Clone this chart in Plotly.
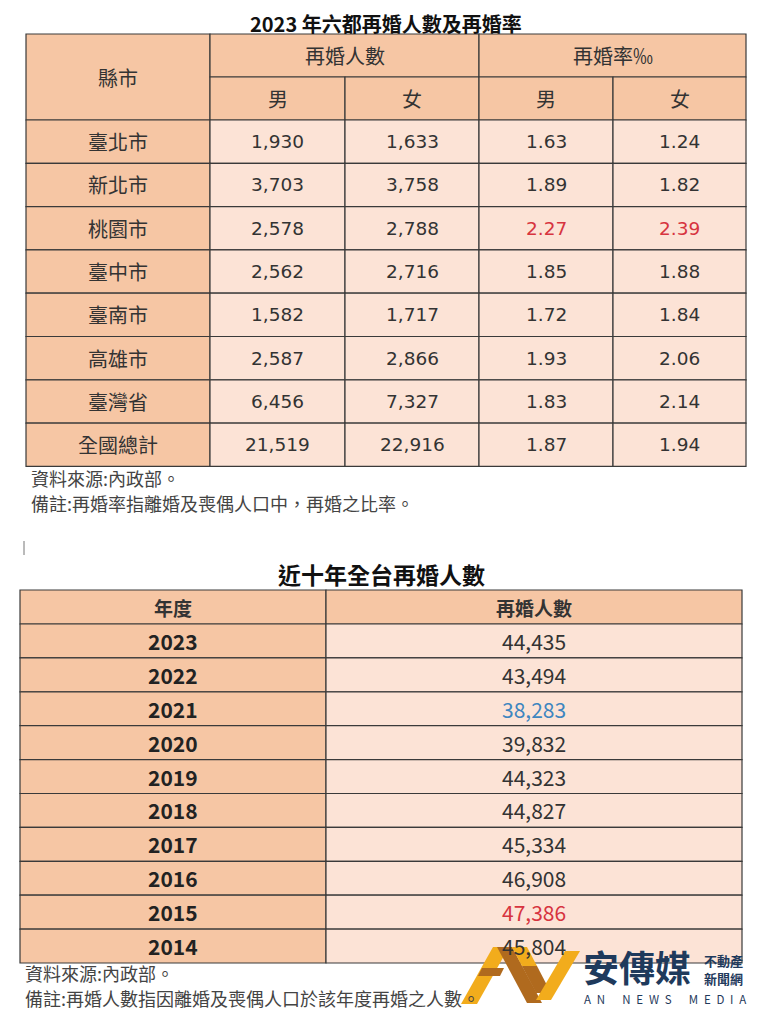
import plotly.graph_objects as go

# ---- data ----
title1 = "2023 年六都再婚人數及再婚率"
cities = ["臺北市", "新北市", "桃園市", "臺中市", "臺南市", "高雄市", "臺灣省", "全國總計"]
male_count = [1930, 3703, 2578, 2562, 1582, 2587, 6456, 21519]
female_count = [1633, 3758, 2788, 2716, 1717, 2866, 7327, 22916]
male_rate = [1.63, 1.89, 2.27, 1.85, 1.72, 1.93, 1.83, 1.87]
female_rate = [1.24, 1.82, 2.39, 1.88, 1.84, 2.06, 2.14, 1.94]
notes1 = ["資料來源:內政部。", "備註:再婚率指離婚及喪偶人口中，再婚之比率。"]

title2 = "近十年全台再婚人數"
years = [2023, 2022, 2021, 2020, 2019, 2018, 2017, 2016, 2015, 2014]
remarriages = [44435, 43494, 38283, 39832, 44323, 44827, 45334, 46908, 47386, 45804]
notes2 = ["資料來源:內政部。", "備註:再婚人數指因離婚及喪偶人口於該年度再婚之人數。"]

# ---- styles ----
FONT = "Noto Sans CJK TC"
NUMFONT = "DejaVu Sans"
DARK = "#F6C6A4"
LIGHT = "#FCE3D6"
BORDER = "#3a3a3a"
TXT = "#333333"
RED = "#D7343F"
BLUE = "#3E86C0"

# table geometry (page pixels)
T1_X = [26, 210, 345, 479, 613, 746]
T1_TOP, T1_HEAD, T1_ROW = 34, 43, 43.3
T2_X = [20, 326, 742]
T2_TOP, T2_HEAD, T2_ROW = 590, 34, 33.9
PAGE_PAD = 8  # browser body margin

shapes = []
annots = []


def cell(x0, x1, y0, y1, fill):
    shapes.append(dict(type="rect", x0=x0, x1=x1, y0=y0, y1=y1, fillcolor=fill,
                       line=dict(color=BORDER, width=1.2), layer="below"))


def text(x, y, s, size, color=TXT, bold=False, xanchor="center", family=FONT):
    annots.append(dict(x=x, y=y, text=f"<b>{s}</b>" if bold else s, showarrow=False,
                       xanchor=xanchor, yanchor="middle",
                       font=dict(family=family, size=size, color=color)))


# ---- table 1 ----
text((T1_X[0] + T1_X[-1]) / 2, 23, title1, 20, "#111111", bold=True)
h1 = T1_TOP + T1_HEAD
h2 = h1 + T1_HEAD
cell(T1_X[0], T1_X[1], T1_TOP, h2, DARK)
text((T1_X[0] + T1_X[1]) / 2, (T1_TOP + h2) / 2, "縣市", 20)
for k, lab in enumerate(["再婚人數", "再婚率‰"]):
    xa, xb = T1_X[1 + 2 * k], T1_X[3 + 2 * k]
    cell(xa, xb, T1_TOP, h1, DARK)
    text((xa + xb) / 2, (T1_TOP + h1) / 2, lab, 20)
    for j, sex in enumerate(["男", "女"]):
        xa2, xb2 = T1_X[1 + 2 * k + j], T1_X[2 + 2 * k + j]
        cell(xa2, xb2, h1, h2, DARK)
        text((xa2 + xb2) / 2, (h1 + h2) / 2, sex, 20)

max_m = max(male_rate[:-2])
max_f = max(female_rate[:-2])
for i, city in enumerate(cities):
    y0 = h2 + i * T1_ROW
    y1 = y0 + T1_ROW
    ym = (y0 + y1) / 2
    cell(T1_X[0], T1_X[1], y0, y1, DARK)
    text((T1_X[0] + T1_X[1]) / 2, ym, city, 20)
    vals = [f"{male_count[i]:,}", f"{female_count[i]:,}", f"{male_rate[i]:.2f}", f"{female_rate[i]:.2f}"]
    cols = [TXT, TXT,
            RED if male_rate[i] == max_m and i < len(cities) - 2 else TXT,
            RED if female_rate[i] == max_f and i < len(cities) - 2 else TXT]
    for j, v in enumerate(vals):
        cell(T1_X[1 + j], T1_X[2 + j], y0, y1, LIGHT)
        text((T1_X[1 + j] + T1_X[2 + j]) / 2, ym, v, 18.5, cols[j], family=NUMFONT)

t1_bottom = h2 + len(cities) * T1_ROW
for k, n in enumerate(notes1):
    text(29, t1_bottom + 12 + k * 25, n, 18, "#444444", xanchor="left")

# little cursor mark between the tables
shapes.append(dict(type="line", x0=24, x1=24, y0=541, y1=555, line=dict(color="#777777", width=1)))

# ---- table 2 ----
text((T2_X[0] + T2_X[-1]) / 2, 574, title2, 23, "#111111", bold=True)
cell(T2_X[0], T2_X[1], T2_TOP, T2_TOP + T2_HEAD, DARK)
cell(T2_X[1], T2_X[2], T2_TOP, T2_TOP + T2_HEAD, DARK)
text((T2_X[0] + T2_X[1]) / 2, T2_TOP + T2_HEAD / 2, "年度", 19, bold=True)
text((T2_X[1] + T2_X[2]) / 2, T2_TOP + T2_HEAD / 2, "再婚人數", 19, bold=True)
hi, lo = max(remarriages), min(remarriages)
for i, yr in enumerate(years):
    y0 = T2_TOP + T2_HEAD + i * T2_ROW
    y1 = y0 + T2_ROW
    ym = (y0 + y1) / 2
    cell(T2_X[0], T2_X[1], y0, y1, DARK)
    cell(T2_X[1], T2_X[2], y0, y1, LIGHT)
    text((T2_X[0] + T2_X[1]) / 2, ym, str(yr), 21, "#222222", bold=True)
    v = remarriages[i]
    c = RED if v == hi else BLUE if v == lo else TXT
    text((T2_X[1] + T2_X[2]) / 2, ym, f"{v:,}", 21, c)

t2_bottom = T2_TOP + T2_HEAD + len(years) * T2_ROW
for k, n in enumerate(notes2):
    text(23, t2_bottom + 10 + k * 25, n, 18, "#444444", xanchor="left")

# ---- watermark logo ----
GOLD = "#F2AC1C"
BROWN = "#B06A1E"
NAVY = "#1F3A5C"
logo_polys = [
    (GOLD, [(461, 1004), (477, 1004), (509, 947), (493, 947)]),
    (BROWN, [(497, 947), (512, 947), (542, 1003), (527, 1003)]),
    (BROWN, [(482, 968), (504, 968), (500, 976), (478, 976)]),
    (GOLD, [(512, 947), (527, 947), (537, 966), (522, 966)]),
    (BROWN, [(522, 966), (537, 966), (551, 993), (536, 993)]),
    (GOLD, [(536, 1000), (551, 1000), (580, 951), (565, 951)]),
]
for color, pts in logo_polys:
    path = "M " + " L ".join(f"{x},{y}" for x, y in pts) + " Z"
    shapes.append(dict(type="path", path=path, fillcolor=color, line=dict(width=0), layer="above"))
text(637, 966, "安傳媒", 36, NAVY, bold=True)
text(723, 960, "不動產", 13, NAVY, bold=True)
text(723, 978, "新聞網", 13, NAVY, bold=True)
text(665, 999, "A\u2002N\u2003\u2002N\u2002E\u2002W\u2002S\u2003\u2002M\u2002E\u2002D\u2002I\u2002A", 11.5, NAVY)

fig = go.Figure()
fig.update_layout(
    width=768, height=1024,
    margin=dict(l=0, r=0, t=0, b=0),
    paper_bgcolor="white", plot_bgcolor="white",
    xaxis=dict(range=[PAGE_PAD, 768 + PAGE_PAD], visible=False, fixedrange=True),
    yaxis=dict(range=[1024 + PAGE_PAD, PAGE_PAD], visible=False, fixedrange=True),
    shapes=shapes, annotations=annots, showlegend=False,
)
fig.write_html("out.html")
